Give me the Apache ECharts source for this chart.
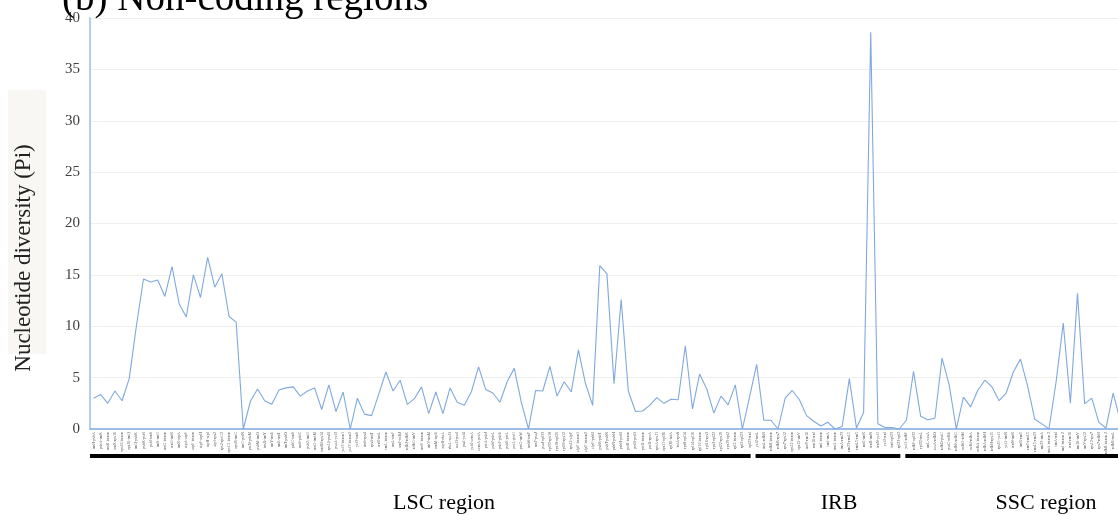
<!DOCTYPE html>
<html>
<head>
<meta charset="utf-8">
<title>Non-coding regions</title>
<script src="https://cdn.jsdelivr.net/npm/echarts@6/dist/echarts.min.js"></script>
<style>
  html, body { margin: 0; padding: 0; background: #ffffff; }
  #chart { width: 1118px; height: 516px; }
</style>
</head>
<body>
<div id="chart"></div>
<script>
// Non-coding regions in plastome order (LSC, then IRB, then SSC)
const lscRegions = [
  'trnH-psbA','psbA-trnK','trnK intron','trnK-rps16','rps16 intron','rps16-trnQ','trnQ-psbK','psbK-psbI',
  'psbI-trnS','trnS-trnG','trnG intron','trnG-trnR','trnR-atpA','atpA-atpF','atpF intron','atpF-atpH',
  'atpH-atpI','atpI-rps2','rps2-rpoC2','rpoC1 intron','rpoB-trnC','trnC-petN','petN-psbM','psbM-trnD',
  'trnD-trnY','trnY-trnE','trnE-trnT','trnT-psbD','psbC-trnS','trnS-psbZ','psbZ-trnG','trnG-trnfM',
  'trnfM-rps14','rps14-psaB','psaA-ycf3','ycf3 intron1','ycf3 intron2','ycf3-trnS','trnS-rps4','rps4-trnT',
  'trnT-trnL','trnL intron','trnL-trnF','trnF-ndhJ','ndhJ-ndhK','ndhC-trnV','trnV intron','trnV-trnM',
  'trnM-atpE','atpB-rbcL','rbcL-accD','accD-psaI','psaI-ycf4','ycf4-cemA','cemA-petA','petA-psbJ',
  'psbJ-psbL','psbF-psbE','psbE-petL','petL-petG','petG-trnW','trnW-trnP','trnP-psaJ','psaJ-rpl33',
  'rpl33-rps18','rps18-rpl20','rpl20-rps12','rps12-clpP','clpP intron1','clpP intron2','clpP-psbB','psbB-psbT',
  'psbT-psbN','psbN-psbH','psbH-petB','petB intron','petB-petD','petD intron','petD-rpoA','rpoA-rps11',
  'rps11-rpl36','rpl36-infA','infA-rps8','rps8-rpl14','rpl14-rpl16','rpl16 intron','rpl16-rps3','rps3-rpl22',
  'rpl22-rps19','rps19-rpl2','rpl2 intron','rpl2-rpl23','rpl23-trnI'
];
const irbRegions = [
  'ycf2-trnL','trnL-ndhB','ndhB intron','ndhB-rps7','rps7-rps12','rps12 intron','rps12-trnV','trnV-rrn16',
  'rrn16-trnI','trnI intron','trnI-trnA','trnA intron','trnA-rrn23','rrn23-rrn4.5','rrn4.5-rrn5','rrn5-trnR',
  'trnR-trnN','trnN-ycf1','ycf2-trnI','trnI-rpl23','rpl23-rpl2'
];
const sscRegions = [
  'ycf1-ndhF','ndhF-rpl32','rpl32-trnL','trnL-ccsA','ccsA-ndhD','ndhD-psaC','psaC-ndhE','ndhE-ndhG',
  'ndhG-ndhI','ndhI-ndhA','ndhA intron','ndhA-ndhH','ndhH-rps15','rps15-ycf1','ycf1-trnN','trnN-trnR',
  'trnR-rrn5','rrn5-rrn4.5','rrn4.5-rrn23','rrn23-trnA','trnA intron 2','trnA-trnI','trnI intron 2','trnI-rrn16',
  'rrn16-trnV','trnV-rps12','rps12-rps7','rps7-ndhB','ndhB intron 2','ndhB-trnL','trnL-ycf2'
];

// Nucleotide diversity (Pi) per region
const lscPi = [
  3.0, 3.35, 2.5, 3.7, 2.75, 4.9, 10.0, 14.6, 14.3, 14.5, 12.9, 15.8, 12.2, 10.9, 15.0, 12.8,
  16.7, 13.8, 15.1, 10.95, 10.4, 0, 2.7, 3.9, 2.75, 2.4, 3.8, 4.0, 4.1, 3.2, 3.7, 4.0,
  1.9, 4.3, 1.7, 3.6, 0, 3.0, 1.45, 1.3, 3.4, 5.55, 3.7, 4.75, 2.4, 2.95, 4.1, 1.5,
  3.6, 1.5, 4.0, 2.6, 2.3, 3.65, 6.05, 3.85, 3.5, 2.6, 4.6, 5.9, 2.6, 0, 3.75, 3.7,
  6.1, 3.2, 4.6, 3.6, 7.7, 4.4, 2.3, 15.9, 15.1, 4.4, 12.6, 3.7, 1.7, 1.75, 2.3, 3.05,
  2.5, 2.9, 2.85, 8.1, 1.95, 5.35, 3.9, 1.55, 3.2, 2.35, 4.3, 0, 3.1
];
const irbPi = [
  6.3, 0.85, 0.85, 0, 3.0, 3.75, 2.85, 1.3, 0.75, 0.3, 0.65, 0, 0.25, 4.9, 0.1, 1.6,
  38.6, 0.5, 0.15, 0.15, 0
];
const sscPi = [
  0.85, 5.6, 1.25, 0.9, 1.05, 6.9, 4.3, 0, 3.1, 2.15, 3.75, 4.75, 4.1, 2.75, 3.5, 5.55,
  6.8, 4.2, 0.95, 0.5, 0, 4.6, 10.3, 2.5, 13.2, 2.45, 3.0, 0.65, 0.1, 3.5, 0.8
];

const yTicks = [0, 5, 10, 15, 20, 25, 30, 35, 40];
const regionNames = ['LSC region', 'IRB', 'SSC region'];
const yTitle = 'Nucleotide diversity (Pi)';

const categories = lscRegions.concat(irbRegions, sscRegions);
const piValues = lscPi.concat(irbPi, sscPi);
const regionSizes = [lscRegions.length, irbRegions.length, sscRegions.length];

const serif = "'Liberation Serif', 'DejaVu Serif', serif";
const chart = echarts.init(document.getElementById('chart'), null, { renderer: 'canvas' });

const option = {
  animation: false,
  backgroundColor: '#ffffff',
  title: {
    text: '(b) Non-coding regions',
    left: 62,
    top: -20,
    padding: 0,
    textStyle: { fontFamily: serif, fontSize: 39, fontWeight: 'normal', color: '#000000' }
  },
  grid: {
    left: 90,
    top: 18,
    bottom: 87,
    width: categories.length * 7.13,
    outerBoundsMode: 'none',
    containLabel: false
  },
  xAxis: {
    type: 'category',
    data: categories,
    boundaryGap: true,
    axisLine: { show: true, lineStyle: { color: '#9dbde6', width: 2 } },
    axisTick: { show: false },
    axisLabel: {
      interval: 0,
      rotate: 90,
      fontSize: 4,
      margin: 3,
      color: '#555555',
      fontFamily: serif
    },
    splitLine: { show: false }
  },
  yAxis: {
    type: 'value',
    min: yTicks[0],
    max: yTicks[yTicks.length - 1],
    interval: yTicks[1] - yTicks[0],
    axisLine: { show: true, lineStyle: { color: '#9dbde6', width: 1.5 } },
    axisTick: { show: false },
    axisLabel: {
      fontFamily: serif,
      fontSize: 15,
      color: '#404040',
      margin: 10,
      formatter: v => (yTicks.indexOf(v) >= 0 ? String(v) : '')
    },
    splitLine: { show: true, lineStyle: { color: '#efefef', width: 1 } }
  },
  series: [{
    type: 'line',
    data: piValues,
    symbol: 'none',
    smooth: false,
    lineStyle: { color: '#7fa8de', width: 1.1 },
    itemStyle: { color: '#7fa8de' },
    z: 3
  }]
};

chart.setOption(option);

// Shaded panel and rotated y-axis title, then region bars under the axis
const elements = [{
  type: 'rect',
  shape: { x: 8, y: 90, width: 38, height: 264 },
  style: { fill: '#f9f7f3' },
  z: -10,
  silent: true
}, {
  type: 'text',
  x: 24,
  y: 258,
  rotation: Math.PI / 2,
  style: {
    text: yTitle,
    fontFamily: serif,
    fontSize: 23,
    fill: '#222222',
    align: 'center',
    verticalAlign: 'middle'
  }
}];
const barY = 456;
const labelY = 503;
const regionLabelX = [444, 839, 1046];
const step = chart.convertToPixel({ xAxisIndex: 0 }, 1) - chart.convertToPixel({ xAxisIndex: 0 }, 0);
let start = 0;
regionSizes.forEach((size, i) => {
  const first = chart.convertToPixel({ xAxisIndex: 0 }, start);
  const last = chart.convertToPixel({ xAxisIndex: 0 }, start + size - 1);
  const x1 = first - step / 2 + (i === 0 ? 0 : 2.5);
  const x2 = last + step / 2 - 2.5;
  elements.push({
    type: 'line',
    shape: { x1: x1, y1: barY, x2: x2, y2: barY },
    style: { stroke: '#000000', lineWidth: 4 }
  });
  elements.push({
    type: 'text',
    x: regionLabelX[i],
    y: labelY,
    style: {
      text: regionNames[i],
      fontFamily: serif,
      fontSize: 22,
      fill: '#000000',
      align: 'center',
      verticalAlign: 'middle'
    }
  });
  start += size;
});
chart.setOption({ graphic: { elements: elements } });
</script>
</body>
</html>
